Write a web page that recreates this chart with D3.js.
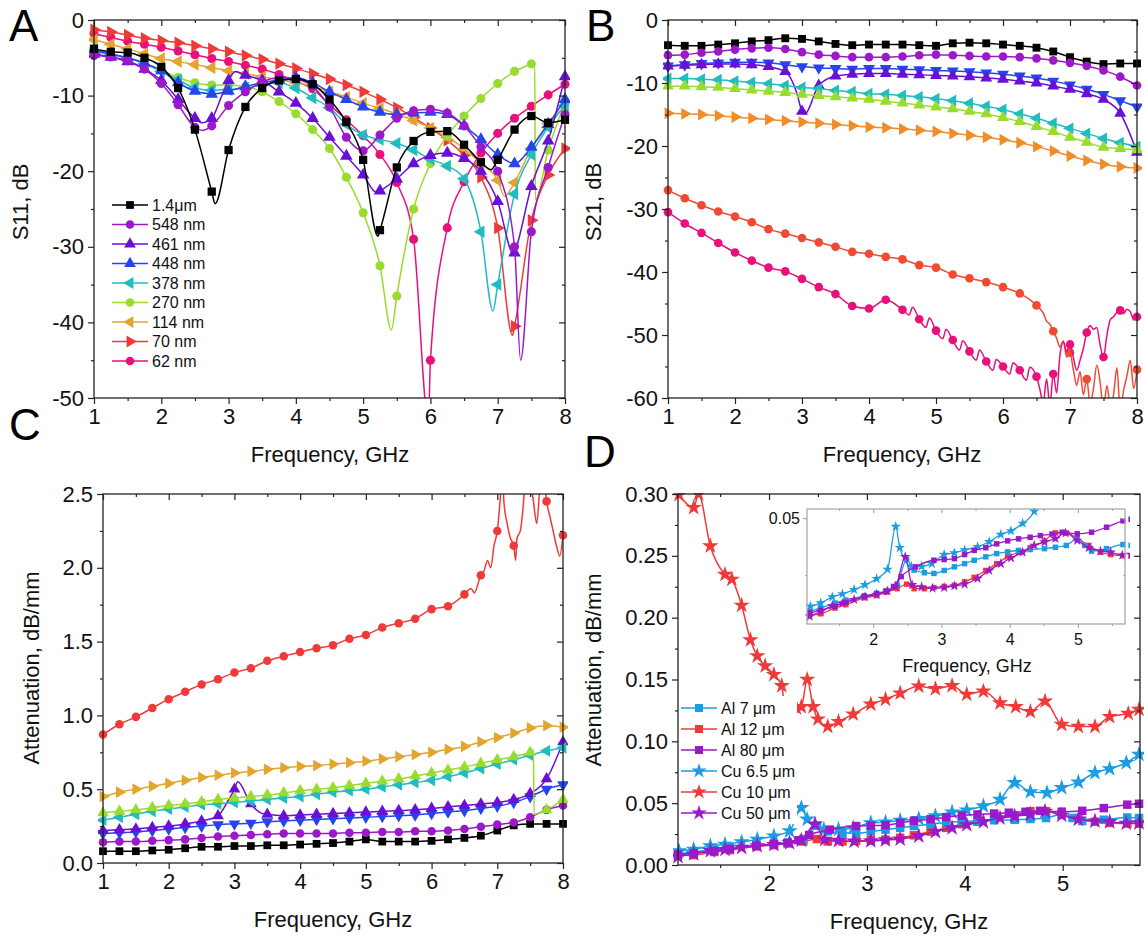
<!DOCTYPE html>
<html>
<head>
<meta charset="utf-8">
<script src="https://cdn.jsdelivr.net/npm/d3@7"></script>
<style>
  body { margin: 0; background: #fff; }
  svg { display: block; }
  text { font-family: "Liberation Sans", Arial, sans-serif; }
</style>
</head>
<body>
<svg id="fig" width="1144" height="941"></svg>
<script>
// ---- panel A : S11 (dB) vs frequency (GHz) ----
const s11_1400 = [[1,-3.8],[1.25,-4.2],[1.5,-4.3],[1.75,-5.0],[2,-6.2],[2.25,-9.0],[2.5,-14.5],[2.75,-22.7],[2.8,-24.3],[3,-17.2],[3.25,-11.5],[3.5,-9.0],[3.75,-8.0],[4,-7.8],[4.25,-8.5],[4.5,-10.5],[4.75,-13.5],[5,-18.5],[5.22,-28.6],[5.25,-27.8],[5.5,-19.5],[5.75,-16.0],[6,-14.8],[6.25,-14.7],[6.5,-16.5],[6.75,-18.8],[6.9,-19.8],[7,-18.5],[7.25,-14.5],[7.5,-12.7],[7.75,-13.6],[8,-13.2]];
const s11_548 = [[1,-4.7],[1.25,-4.9],[1.5,-5.4],[1.75,-6.5],[2,-8.4],[2.25,-11.2],[2.5,-14.2],[2.62,-14.6],[2.75,-14.0],[3,-11.3],[3.25,-9.5],[3.5,-8.2],[3.75,-7.6],[4,-7.8],[4.25,-8.8],[4.5,-11.5],[4.75,-15.5],[5,-17.3],[5.25,-15.2],[5.5,-13.0],[5.75,-12.0],[6,-11.8],[6.25,-12.3],[6.5,-14.0],[6.75,-16.8],[7,-20.0],[7.25,-30.0],[7.34,-45.0],[7.5,-28.0],[7.75,-19.5],[8,-12.5]];
const s11_461 = [[1,-4.5],[1.25,-4.9],[1.5,-5.5],[1.75,-6.5],[2,-8.0],[2.25,-10.5],[2.5,-13.0],[2.6,-13.6],[2.75,-13.0],[2.9,-10.0],[3,-8.0],[3.1,-6.8],[3.25,-7.3],[3.5,-8.0],[3.75,-9.5],[4,-11.0],[4.25,-13.0],[4.5,-15.5],[4.75,-18.0],[5,-20.5],[5.2,-22.8],[5.25,-22.6],[5.5,-21.0],[5.75,-19.0],[6,-17.9],[6.25,-17.6],[6.5,-18.3],[6.75,-20.0],[7,-24.0],[7.24,-31.0],[7.25,-30.8],[7.5,-22.0],[7.75,-16.0],[8,-7.5]];
const s11_448 = [[1,-4.0],[1.25,-4.5],[1.5,-5.0],[1.75,-5.7],[2,-6.7],[2.25,-8.3],[2.5,-9.4],[2.75,-9.8],[3,-9.4],[3.25,-8.8],[3.5,-8.3],[3.75,-7.9],[4,-7.6],[4.25,-8.3],[4.5,-9.5],[4.75,-10.5],[5,-11.5],[5.25,-12.2],[5.5,-12.5],[5.75,-12.3],[6,-12.2],[6.25,-12.5],[6.5,-14.0],[6.75,-15.8],[7,-17.8],[7.25,-19.0],[7.5,-16.8],[7.75,-13.8],[8,-10.5]];
const s11_378 = [[1,-4.0],[1.25,-4.5],[1.5,-5.0],[1.75,-5.8],[2,-6.8],[2.25,-7.9],[2.5,-9.0],[2.75,-9.3],[3,-9.2],[3.25,-9.0],[3.5,-8.6],[3.75,-8.3],[4,-9.0],[4.25,-10.3],[4.5,-11.6],[4.75,-13.8],[5,-15.2],[5.25,-15.8],[5.5,-16.3],[5.75,-17.2],[6,-18.4],[6.25,-19.3],[6.5,-21.0],[6.75,-28.0],[6.93,-38.5],[7,-35.0],[7.25,-23.0],[7.5,-17.8],[7.75,-14.2],[8,-11.3]];
const s11_270 = [[1,-4.2],[1.25,-4.6],[1.5,-5.0],[1.75,-5.7],[2,-6.6],[2.25,-7.6],[2.5,-8.3],[2.75,-8.6],[3,-8.6],[3.25,-8.8],[3.5,-9.5],[3.75,-10.8],[4,-12.4],[4.25,-14.5],[4.5,-17.0],[4.75,-20.8],[5,-25.5],[5.25,-32.5],[5.42,-41.0],[5.5,-36.5],[5.75,-25.0],[6,-19.0],[6.25,-15.3],[6.5,-12.7],[6.75,-10.4],[7,-8.4],[7.25,-6.8],[7.5,-5.8],[7.55,-5.6],[7.56,-23.8],[7.75,-17.2],[8,-11.0]];
const s11_114 = [[1,-2.6],[1.25,-3.2],[1.5,-3.8],[1.75,-4.5],[2,-5.1],[2.25,-5.5],[2.5,-5.9],[2.75,-6.3],[3,-6.7],[3.25,-7.1],[3.5,-7.5],[3.75,-7.9],[4,-8.3],[4.25,-8.8],[4.5,-9.5],[4.75,-10.2],[5,-11.0],[5.25,-11.7],[5.5,-12.4],[5.75,-13.3],[6,-14.3],[6.25,-15.5],[6.5,-17.0],[6.75,-19.0],[7,-21.2],[7.1,-23.3],[7.25,-21.5],[7.5,-17.0],[7.75,-13.7],[8,-11.5]];
const s11_70 = [[1,-1.3],[1.25,-1.6],[1.5,-2.0],[1.75,-2.4],[2,-2.7],[2.25,-3.0],[2.5,-3.4],[2.75,-3.8],[3,-4.2],[3.25,-4.7],[3.5,-5.2],[3.75,-5.8],[4,-6.4],[4.25,-7.1],[4.5,-7.8],[4.75,-8.6],[5,-9.5],[5.25,-10.5],[5.5,-11.6],[5.75,-12.9],[6,-14.3],[6.25,-15.9],[6.5,-17.9],[6.75,-20.8],[7,-27.5],[7.22,-41.7],[7.25,-40.5],[7.5,-26.5],[7.75,-20.5],[8,-17.0]];
const s11_62 = [[1,-1.8],[1.25,-2.3],[1.5,-2.8],[1.75,-3.2],[2,-3.6],[2.25,-4.1],[2.5,-4.6],[2.75,-5.1],[3,-5.5],[3.25,-6.0],[3.5,-6.5],[3.75,-7.2],[4,-8.1],[4.25,-9.1],[4.5,-11.2],[4.75,-13.2],[5,-15.3],[5.25,-17.8],[5.5,-21.5],[5.75,-29.0],[5.97,-53.0],[6,-45.0],[6.25,-27.5],[6.5,-21.4],[6.75,-17.6],[7,-15.0],[7.25,-13.0],[7.5,-11.4],[7.75,-9.9],[8,-8.5]];

// ---- panel B : S21 (dB) ----
const s21_1400 = [[1,-4.0],[1.25,-4.1],[1.5,-4.1],[1.75,-3.9],[2,-3.7],[2.25,-3.4],[2.5,-3.2],[2.75,-2.9],[3,-3.0],[3.25,-3.4],[3.5,-3.8],[3.75,-4.0],[4,-3.9],[4.25,-3.9],[4.5,-3.9],[4.75,-4.0],[5,-4.1],[5.25,-3.7],[5.5,-3.6],[5.75,-3.7],[6,-3.9],[6.25,-4.1],[6.5,-4.4],[6.75,-5.0],[7,-5.9],[7.25,-6.6],[7.5,-7.0],[7.75,-6.9],[8,-6.9]];
const s21_548 = [[1,-5.6],[1.25,-5.5],[1.5,-5.2],[1.75,-5.0],[2,-4.7],[2.25,-4.5],[2.5,-4.4],[2.75,-4.6],[3,-5.1],[3.25,-5.5],[3.5,-5.7],[3.75,-5.9],[4,-5.9],[4.25,-5.9],[4.5,-5.8],[4.75,-5.6],[5,-5.5],[5.25,-5.6],[5.5,-5.7],[5.75,-5.8],[6,-5.8],[6.25,-5.9],[6.5,-6.1],[6.75,-6.4],[7,-6.8],[7.25,-7.3],[7.5,-8.0],[7.75,-9.0],[8,-10.4]];
const s21_448 = [[1,-7.3],[1.25,-7.1],[1.5,-6.9],[1.75,-6.8],[2,-6.7],[2.25,-6.7],[2.5,-6.8],[2.75,-7.1],[3,-7.4],[3.25,-7.6],[3.5,-7.7],[3.75,-7.8],[4,-7.7],[4.25,-7.7],[4.5,-7.8],[4.75,-7.9],[5,-8.0],[5.25,-8.1],[5.5,-8.2],[5.75,-8.4],[6,-8.6],[6.25,-8.9],[6.5,-9.2],[6.75,-9.7],[7,-10.3],[7.25,-11.0],[7.5,-11.8],[7.75,-12.8],[8,-13.8]];
const s21_461 = [[1,-7.3],[1.25,-7.2],[1.5,-7.1],[1.75,-7.0],[2,-7.0],[2.25,-7.1],[2.5,-7.4],[2.75,-8.2],[2.92,-11.5],[3,-14.5],[3.04,-14.9],[3.25,-10.4],[3.5,-8.9],[3.75,-8.6],[4,-8.5],[4.25,-8.5],[4.5,-8.6],[4.75,-8.7],[5,-8.8],[5.25,-8.9],[5.5,-9.0],[5.75,-9.2],[6,-9.4],[6.25,-9.7],[6.5,-10.0],[6.75,-10.5],[7,-11.0],[7.25,-11.7],[7.5,-12.6],[7.75,-14.8],[8,-21.0]];
const s21_378 = [[1,-9.3],[1.25,-9.3],[1.5,-9.4],[1.75,-9.5],[2,-9.7],[2.25,-9.9],[2.5,-10.1],[2.75,-10.4],[3,-10.7],[3.25,-10.9],[3.5,-11.2],[3.75,-11.4],[4,-11.7],[4.25,-11.8],[4.5,-12.0],[4.75,-12.2],[5,-12.5],[5.25,-12.8],[5.5,-13.2],[5.75,-13.7],[6,-14.2],[6.25,-14.9],[6.5,-15.6],[6.75,-16.4],[7,-17.2],[7.25,-18.0],[7.5,-18.8],[7.75,-19.5],[8,-20.1]];
const s21_270 = [[1,-10.5],[1.25,-10.5],[1.5,-10.6],[1.75,-10.7],[2,-10.9],[2.25,-11.1],[2.5,-11.3],[2.75,-11.5],[3,-11.8],[3.25,-12.0],[3.5,-12.2],[3.75,-12.4],[4,-12.6],[4.25,-12.9],[4.5,-13.2],[4.75,-13.5],[5,-13.8],[5.25,-14.1],[5.5,-14.5],[5.75,-14.9],[6,-15.5],[6.25,-16.1],[6.5,-16.9],[6.75,-17.7],[7,-18.6],[7.25,-19.4],[7.5,-20.2],[7.75,-20.4],[8,-20.6]];
const s21_114 = [[1,-14.8],[1.25,-14.9],[1.5,-15.0],[1.75,-15.2],[2,-15.4],[2.25,-15.6],[2.5,-15.8],[2.75,-16.0],[3,-16.2],[3.25,-16.4],[3.5,-16.6],[3.75,-16.8],[4,-17.0],[4.25,-17.1],[4.5,-17.3],[4.75,-17.5],[5,-17.7],[5.25,-18.0],[5.5,-18.3],[5.75,-18.6],[6,-19.0],[6.25,-19.5],[6.5,-20.1],[6.75,-20.8],[7,-21.6],[7.25,-22.3],[7.5,-22.9],[7.75,-23.3],[8,-23.5]];
const s21_70 = [[1,-27.0],[1.25,-28.3],[1.5,-29.4],[1.75,-30.4],[2,-31.2],[2.25,-32.1],[2.5,-33.2],[2.75,-33.9],[3,-34.6],[3.25,-35.3],[3.5,-36.0],[3.75,-36.8],[4,-37.1],[4.25,-37.6],[4.5,-38.0],[4.75,-38.9],[5,-39.3],[5.25,-40.4],[5.5,-41.0],[5.75,-41.6],[6,-42.4],[6.25,-43.4],[6.5,-45.3],[6.6,-46.5],[6.65,-47.8],[6.7,-48.3],[6.75,-49.4],[6.8,-50.5],[6.85,-51.9],[6.9,-51.0],[6.95,-53.5],[7,-52.8],[7.05,-55.5],[7.1,-58.0],[7.15,-55.8],[7.2,-59.5],[7.25,-57.0],[7.3,-61.0],[7.35,-58.5],[7.4,-54.8],[7.45,-57.5],[7.5,-62.0],[7.55,-58.0],[7.6,-61.0],[7.65,-59.5],[7.7,-55.2],[7.75,-62.0],[7.8,-58.8],[7.85,-56.5],[7.9,-54.0],[7.95,-58.5],[8,-55.5]];
const s21_62 = [[1,-30.5],[1.25,-32.3],[1.5,-33.8],[1.75,-35.4],[2,-36.9],[2.25,-38.2],[2.5,-39.3],[2.75,-39.9],[3,-41.1],[3.25,-42.4],[3.5,-43.5],[3.75,-45.4],[4,-45.8],[4.25,-44.4],[4.5,-46.0],[4.6,-46.8],[4.65,-45.6],[4.75,-47.5],[4.85,-48.8],[4.9,-47.3],[5,-49.3],[5.1,-50.6],[5.15,-49.1],[5.25,-50.8],[5.35,-52.4],[5.4,-50.9],[5.5,-52.6],[5.6,-54.0],[5.65,-52.4],[5.75,-54.2],[5.85,-55.6],[5.9,-53.9],[6,-55.0],[6.1,-56.2],[6.15,-54.4],[6.25,-55.6],[6.35,-57.2],[6.4,-55.1],[6.5,-56.6],[6.55,-58.6],[6.6,-60.8],[6.65,-57.0],[6.7,-61.2],[6.75,-56.2],[6.8,-59.2],[6.85,-53.2],[6.9,-51.0],[6.95,-52.6],[7,-51.5],[7.05,-53.6],[7.1,-55.6],[7.15,-54.0],[7.2,-52.1],[7.25,-49.6],[7.3,-48.5],[7.35,-49.1],[7.4,-48.8],[7.45,-51.6],[7.5,-53.5],[7.55,-50.1],[7.6,-47.6],[7.65,-47.1],[7.7,-46.4],[7.75,-46.1],[7.8,-46.6],[7.85,-45.9],[7.9,-46.3],[7.95,-47.6],[8,-47.1]];

// ---- panel C : attenuation (dB/mm) ----
const att_1400 = [[1,0.08],[1.25,0.08],[1.5,0.08],[1.75,0.085],[2,0.09],[2.25,0.10],[2.5,0.11],[2.75,0.11],[3,0.115],[3.25,0.115],[3.5,0.12],[3.75,0.12],[4,0.125],[4.25,0.13],[4.5,0.135],[4.75,0.145],[5,0.16],[5.25,0.145],[5.5,0.145],[5.75,0.145],[6,0.15],[6.25,0.16],[6.5,0.17],[6.75,0.185],[7,0.22],[7.25,0.255],[7.5,0.265],[7.75,0.265],[8,0.265]];
const att_548 = [[1,0.14],[1.25,0.145],[1.5,0.145],[1.75,0.15],[2,0.155],[2.25,0.16],[2.5,0.17],[2.75,0.18],[3,0.185],[3.25,0.19],[3.5,0.195],[3.75,0.20],[4,0.20],[4.25,0.20],[4.5,0.20],[4.75,0.205],[5,0.205],[5.25,0.21],[5.5,0.21],[5.75,0.215],[6,0.215],[6.25,0.22],[6.5,0.23],[6.75,0.245],[7,0.26],[7.25,0.275],[7.5,0.31],[7.75,0.36],[8,0.39]];
const att_448 = [[1,0.20],[1.25,0.205],[1.5,0.21],[1.75,0.22],[2,0.23],[2.25,0.24],[2.5,0.25],[2.75,0.26],[3,0.265],[3.25,0.27],[3.5,0.28],[3.75,0.285],[4,0.29],[4.25,0.295],[4.5,0.30],[4.75,0.305],[5,0.31],[5.25,0.315],[5.5,0.32],[5.75,0.325],[6,0.335],[6.25,0.345],[6.5,0.355],[6.75,0.37],[7,0.385],[7.25,0.41],[7.5,0.45],[7.75,0.50],[8,0.53]];
const att_461 = [[1,0.22],[1.25,0.225],[1.5,0.23],[1.75,0.24],[2,0.25],[2.25,0.265],[2.5,0.285],[2.75,0.32],[2.9,0.42],[3,0.50],[3.05,0.55],[3.25,0.40],[3.4,0.34],[3.5,0.33],[3.75,0.32],[4,0.325],[4.25,0.33],[4.5,0.335],[4.75,0.34],[5,0.345],[5.25,0.35],[5.5,0.355],[5.75,0.36],[6,0.37],[6.25,0.38],[6.5,0.39],[6.75,0.40],[7,0.41],[7.25,0.43],[7.5,0.47],[7.75,0.57],[8,0.82]];
const att_378 = [[1,0.29],[1.25,0.31],[1.5,0.33],[1.75,0.35],[2,0.365],[2.25,0.38],[2.5,0.395],[2.75,0.40],[3,0.41],[3.25,0.42],[3.5,0.43],[3.75,0.44],[4,0.45],[4.25,0.465],[4.5,0.48],[4.75,0.49],[5,0.50],[5.25,0.515],[5.5,0.53],[5.75,0.545],[6,0.56],[6.25,0.585],[6.5,0.61],[6.75,0.64],[7,0.67],[7.25,0.70],[7.5,0.73],[7.75,0.76],[8,0.78]];
const att_270 = [[1,0.34],[1.25,0.35],[1.5,0.36],[1.75,0.375],[2,0.39],[2.25,0.40],[2.5,0.415],[2.75,0.43],[3,0.44],[3.25,0.45],[3.5,0.46],[3.75,0.475],[4,0.49],[4.25,0.50],[4.5,0.51],[4.75,0.525],[5,0.54],[5.25,0.555],[5.5,0.57],[5.75,0.59],[6,0.61],[6.25,0.63],[6.5,0.65],[6.75,0.675],[7,0.70],[7.25,0.72],[7.5,0.75],[7.55,0.76],[7.56,0.33],[7.75,0.36],[8,0.43]];
const att_114 = [[1,0.45],[1.25,0.48],[1.5,0.50],[1.75,0.52],[2,0.54],[2.25,0.56],[2.5,0.58],[2.75,0.595],[3,0.61],[3.25,0.62],[3.5,0.635],[3.75,0.645],[4,0.655],[4.25,0.66],[4.5,0.67],[4.75,0.68],[5,0.69],[5.25,0.705],[5.5,0.72],[5.75,0.735],[6,0.75],[6.25,0.77],[6.5,0.79],[6.75,0.82],[7,0.85],[7.25,0.88],[7.5,0.915],[7.75,0.93],[8,0.92]];
const att_62 = [[1,0.87],[1.25,0.94],[1.5,0.99],[1.75,1.05],[2,1.11],[2.25,1.16],[2.5,1.21],[2.75,1.245],[3,1.29],[3.25,1.32],[3.5,1.37],[3.75,1.40],[4,1.43],[4.25,1.455],[4.5,1.475],[4.75,1.52],[5,1.545],[5.25,1.595],[5.5,1.625],[5.75,1.655],[6,1.72],[6.25,1.74],[6.5,1.82],[6.6,1.86],[6.65,1.83],[6.75,1.95],[6.8,1.98],[6.85,2.05],[6.9,2.0],[6.95,2.15],[7,2.25],[7.05,2.5],[7.08,2.7],[7.1,2.45],[7.15,2.3],[7.2,2.2],[7.25,2.15],[7.28,2.05],[7.3,2.2],[7.35,2.25],[7.4,2.45],[7.43,2.65],[7.5,2.6],[7.55,2.45],[7.6,2.3],[7.65,2.55],[7.7,2.65],[7.75,2.45],[7.8,2.35],[7.85,2.25],[7.9,2.15],[7.95,2.08],[8,2.22]];

// ---- panel D : attenuation of Al / Cu films (dB/mm) ----
const al7 = [[1.07,0.0091],[1.23,0.0105],[1.44,0.0127],[1.6,0.014],[1.87,0.0159],[2.05,0.017],[2.19,0.0182],[2.35,0.021],[2.49,0.0318],[2.6,0.0272],[2.75,0.026],[2.89,0.0257],[3.04,0.027],[3.19,0.0286],[3.34,0.030],[3.48,0.0315],[3.65,0.033],[3.81,0.0344],[3.97,0.0352],[4.13,0.0358],[4.3,0.0362],[4.51,0.0366],[4.67,0.0372],[4.83,0.038],[4.99,0.0409],[5.1,0.038],[5.2,0.0355],[5.42,0.0366],[5.66,0.0384],[5.78,0.038]];
const al12 = [[1.07,0.0075],[1.23,0.008],[1.44,0.0105],[1.6,0.012],[1.87,0.015],[2.05,0.016],[2.19,0.0175],[2.35,0.019],[2.49,0.021],[2.6,0.019],[2.75,0.019],[2.89,0.0195],[3.04,0.02],[3.19,0.0205],[3.34,0.022],[3.48,0.024],[3.65,0.027],[3.81,0.03],[3.97,0.033],[4.13,0.035],[4.3,0.037],[4.51,0.04],[4.67,0.0435],[4.83,0.0435],[4.99,0.041],[5.16,0.038],[5.33,0.035],[5.48,0.034],[5.66,0.0335],[5.78,0.0335]];
const al80 = [[1.07,0.0084],[1.23,0.0095],[1.44,0.0113],[1.6,0.013],[1.87,0.0156],[2.05,0.0168],[2.19,0.0178],[2.3,0.02],[2.41,0.0243],[2.62,0.0286],[2.89,0.0315],[3.04,0.0318],[3.19,0.0322],[3.34,0.034],[3.48,0.0358],[3.65,0.037],[3.81,0.0387],[3.97,0.040],[4.13,0.0409],[4.3,0.0416],[4.45,0.0423],[4.62,0.043],[4.77,0.0438],[4.99,0.0431],[5.2,0.0438],[5.42,0.046],[5.66,0.0488],[5.78,0.0495]];
const cu65 = [[1.08,0.0113],[1.23,0.0127],[1.40,0.0154],[1.55,0.0167],[1.72,0.0186],[1.88,0.0207],[2.05,0.0234],[2.21,0.0275],[2.33,0.0463],[2.39,0.037],[2.56,0.0288],[2.71,0.0288],[2.86,0.030],[3.04,0.034],[3.19,0.0347],[3.34,0.036],[3.53,0.0374],[3.7,0.0396],[3.87,0.0428],[4.02,0.0444],[4.19,0.0477],[4.36,0.053],[4.51,0.0665],[4.67,0.0592],[4.84,0.0584],[4.99,0.0625],[5.16,0.067],[5.33,0.0746],[5.48,0.0778],[5.65,0.0827],[5.78,0.0894]];
const cu10 = [[1.08,0.2995],[1.23,0.289],[1.28,0.30],[1.40,0.258],[1.55,0.235],[1.62,0.231],[1.72,0.21],[1.81,0.182],[1.88,0.169],[1.96,0.161],[2.05,0.154],[2.13,0.145],[2.16,0.128],[2.21,0.122],[2.28,0.127],[2.33,0.128],[2.39,0.15],[2.45,0.128],[2.5,0.118],[2.6,0.112],[2.71,0.116],[2.86,0.122],[3.04,0.13],[3.19,0.134],[3.34,0.139],[3.53,0.1446],[3.7,0.1425],[3.87,0.145],[4.02,0.138],[4.19,0.1405],[4.36,0.131],[4.52,0.128],[4.67,0.124],[4.82,0.1325],[4.99,0.1136],[5.16,0.112],[5.33,0.112],[5.48,0.12],[5.67,0.1225],[5.78,0.1258]];
const cu50 = [[1.07,0.0069],[1.23,0.009],[1.40,0.0115],[1.55,0.0125],[1.72,0.0142],[1.88,0.0155],[2.05,0.0165],[2.21,0.018],[2.33,0.02],[2.47,0.033],[2.57,0.0207],[2.71,0.0198],[2.87,0.0192],[3.04,0.0195],[3.19,0.0202],[3.34,0.021],[3.53,0.0235],[3.7,0.027],[3.87,0.03],[4.02,0.0325],[4.19,0.035],[4.36,0.038],[4.51,0.0395],[4.67,0.041],[4.82,0.0434],[4.99,0.0402],[5.16,0.037],[5.33,0.0355],[5.48,0.035],[5.65,0.0337],[5.78,0.034]];

// tick values
const ticksGHz = [1, 2, 3, 4, 5, 6, 7, 8];
const minorGHz = [1.5, 2.5, 3.5, 4.5, 5.5, 6.5, 7.5];
const ticksS11 = [-50, -40, -30, -20, -10, 0];
const minorS11 = [-45, -35, -25, -15, -5];
const ticksS21 = [-60, -50, -40, -30, -20, -10, 0];
const minorS21 = [-55, -45, -35, -25, -15, -5];
const ticksAttC = [0, 0.5, 1.0, 1.5, 2.0, 2.5];
const minorAttC = [0.25, 0.75, 1.25, 1.75, 2.25];
const ticksGHzD = [2, 3, 4, 5];
const minorGHzD = [1.5, 2.5, 3.5, 4.5, 5.5];
const ticksAttD = [0, 0.05, 0.10, 0.15, 0.20, 0.25, 0.30];
const minorAttD = [0.025, 0.075, 0.125, 0.175, 0.225, 0.275];

const C = {
  black: '#000000', purple: '#9b19c9', violet: '#6a10d6', blue: '#2544ee',
  cyan: '#1fbcc0', lime: '#98dc2e', gold: '#e2a52e', red: '#f03a3a',
  magenta: '#e8107a', orange: '#f08c2a', sky: '#1a9de2'
};

const seriesA = [
  {name: '1.4\u03bcm', data: s11_1400, color: C.black, shape: 'square'},
  {name: '548 nm', data: s11_548, color: C.purple, shape: 'circle'},
  {name: '461 nm', data: s11_461, color: C.violet, shape: 'up'},
  {name: '448 nm', data: s11_448, color: C.blue, shape: 'up'},
  {name: '378 nm', data: s11_378, color: C.cyan, shape: 'left'},
  {name: '270 nm', data: s11_270, color: C.lime, shape: 'circle'},
  {name: '114 nm', data: s11_114, color: C.gold, shape: 'left'},
  {name: '70 nm', data: s11_70, color: C.red, shape: 'right'},
  {name: '62 nm', data: s11_62, color: C.magenta, shape: 'circle'}
];
const seriesB = [
  {data: s21_1400, color: C.black, shape: 'square'},
  {data: s21_548, color: C.purple, shape: 'circle'},
  {data: s21_448, color: C.blue, shape: 'down'},
  {data: s21_461, color: C.violet, shape: 'up'},
  {data: s21_378, color: C.cyan, shape: 'left'},
  {data: s21_270, color: C.lime, shape: 'up'},
  {data: s21_114, color: C.orange, shape: 'right'},
  {data: s21_70, color: '#f04a35', shape: 'circle'},
  {data: s21_62, color: C.magenta, shape: 'circle'}
];
const seriesC = [
  {data: att_1400, color: C.black, shape: 'square'},
  {data: att_548, color: C.purple, shape: 'circle'},
  {data: att_448, color: C.blue, shape: 'down'},
  {data: att_461, color: C.violet, shape: 'up'},
  {data: att_378, color: C.cyan, shape: 'left'},
  {data: att_270, color: C.lime, shape: 'up'},
  {data: att_114, color: C.gold, shape: 'right'},
  {data: att_62, color: C.red, shape: 'circle'}
];
const seriesD = [
  {name: 'Al 7 \u03bcm', data: al7, color: C.sky, shape: 'square'},
  {name: 'Al 12 \u03bcm', data: al12, color: C.red, shape: 'square'},
  {name: 'Al 80 \u03bcm', data: al80, color: C.purple, shape: 'square'},
  {name: 'Cu 6.5 \u03bcm', data: cu65, color: C.sky, shape: 'star'},
  {name: 'Cu 10 \u03bcm', data: cu10, color: C.red, shape: 'star'},
  {name: 'Cu 50 \u03bcm', data: cu50, color: C.purple, shape: 'star'}
];
const drawOrderD = [1, 0, 3, 4, 2, 5];

const SHAPES = {
  square: [d3.symbolSquare, 0], circle: [d3.symbolCircle, 0],
  up: [d3.symbolTriangle, 0], down: [d3.symbolTriangle, 180],
  left: [d3.symbolTriangle, -90], right: [d3.symbolTriangle, 90],
  star: [d3.symbolStar, 0]
};

const svg = d3.select('#fig');

function symbolPath(shape, size) {
  const k = shape === 'star' ? 1.15 : (shape === 'circle' ? 0.95 : 1);
  return d3.symbol(SHAPES[shape][0], size * k)();
}

function panel(p) {
  const x = d3.scaleLinear().domain(p.xDomain).range([p.left, p.right]);
  const y = d3.scaleLinear().domain(p.yDomain).range([p.bottom, p.top]);
  const w = p.right - p.left, h = p.bottom - p.top;
  const g = svg.append('g');
  const defs = g.append('defs');
  defs.append('clipPath').attr('id', p.id + 'c').append('rect')
    .attr('x', p.left).attr('y', p.top).attr('width', w).attr('height', h);
  defs.append('clipPath').attr('id', p.id + 'm').append('rect')
    .attr('x', p.left - 5).attr('y', p.top - 1).attr('width', w + 10).attr('height', h + 6);

  if (p.fill) g.append('rect').attr('x', p.left).attr('y', p.top).attr('width', w).attr('height', h).attr('fill', p.fill);

  const line = d3.line().x(d => x(d[0])).y(d => y(d[1])).curve(d3.curveMonotoneX);
  p.series.forEach(s => {
    const sg = g.append('g');
    sg.append('path').attr('d', line(s.data))
      .attr('fill', 'none').attr('stroke', s.color).attr('stroke-width', p.lw)
      .attr('stroke-linejoin', 'round').attr('clip-path', `url(#${p.id}c)`);
    const pts = p.markAll ? s.data
      : s.data.filter(d => Math.abs(d[0] * 4 - Math.round(d[0] * 4)) < 1e-6);
    sg.append('g').attr('clip-path', `url(#${p.id}m)`)
      .selectAll('path').data(pts).join('path')
      .attr('d', symbolPath(s.shape, p.msize))
      .attr('transform', d => `translate(${x(d[0])},${y(d[1])}) rotate(${SHAPES[s.shape][1]})`)
      .attr('fill', s.color);
  });

  const tk = p.tick || 6, tkm = p.tickMinor || 3;
  const add = (axis, tr) => g.append('g').attr('transform', tr).call(axis)
    .call(a => a.select('.domain').remove());
  add(d3.axisBottom(x).tickValues(p.xTicks).tickSize(tk).tickPadding(p.padX || 4).tickFormat(d => String(d)), `translate(0,${p.bottom})`);
  add(d3.axisBottom(x).tickValues(p.xMinor).tickSize(tkm).tickFormat(''), `translate(0,${p.bottom})`);
  add(d3.axisLeft(y).tickValues(p.yTicks).tickSize(tk).tickPadding(p.padY || 4).tickFormat(p.yFmt), `translate(${p.left},0)`);
  add(d3.axisLeft(y).tickValues(p.yMinor).tickSize(tkm).tickFormat(''), `translate(${p.left},0)`);
  add(d3.axisTop(x).tickValues(p.xTicks).tickSize(-tk).tickFormat(''), `translate(0,${p.top})`);
  add(d3.axisTop(x).tickValues(p.xMinor).tickSize(-tkm).tickFormat(''), `translate(0,${p.top})`);
  add(d3.axisRight(y).tickValues(p.yTicks).tickSize(-tk).tickFormat(''), `translate(${p.right},0)`);
  add(d3.axisRight(y).tickValues(p.yMinor).tickSize(-tkm).tickFormat(''), `translate(${p.right},0)`);
  g.selectAll('.tick line').attr('stroke', p.frame || '#222').attr('stroke-width', 1.2);
  g.selectAll('.tick text').attr('font-size', p.fs).attr('fill', '#111')
    .attr('font-family', '"Liberation Sans", Arial, sans-serif');

  g.append('rect').attr('x', p.left).attr('y', p.top).attr('width', w).attr('height', h)
    .attr('fill', 'none').attr('stroke', p.frame || '#222').attr('stroke-width', 1.3);

  g.append('text').attr('x', p.xTitle[0]).attr('y', p.xTitle[1])
    .attr('text-anchor', 'middle').attr('font-size', p.titleFs).attr('fill', '#111')
    .text('Frequency, GHz');
  if (p.yTitle) {
    g.append('text').attr('transform', `translate(${p.yTitle[0]},${p.yTitle[1]}) rotate(-90)`)
      .attr('text-anchor', 'middle').attr('font-size', p.titleFs).attr('fill', '#111')
      .text(p.yLabel);
  }
  if (p.letter) {
    g.append('text').attr('x', p.letter[0]).attr('y', p.letter[1])
      .attr('font-size', 44).attr('fill', '#000').text(p.letter[2]);
  }
  return g;
}

function legend(items, o) {
  const g = svg.append('g');
  g.append('rect').attr('x', o.box[0]).attr('y', o.box[1]).attr('width', o.box[2]).attr('height', o.box[3])
    .attr('fill', '#fff');
  items.forEach((s, i) => {
    const cy = o.y + i * o.dy;
    g.append('line').attr('x1', o.x1).attr('x2', o.x2).attr('y1', cy).attr('y2', cy)
      .attr('stroke', s.color).attr('stroke-width', 1.6);
    g.append('path').attr('d', symbolPath(s.shape, o.ms))
      .attr('transform', `translate(${(o.x1 + o.x2) / 2},${cy}) rotate(${SHAPES[s.shape][1]})`)
      .attr('fill', s.color);
    g.append('text').attr('x', o.tx).attr('y', cy).attr('dy', '0.36em')
      .attr('font-size', o.fs).attr('fill', '#111').text(s.name);
  });
}

const common = {fs: 22, titleFs: 22, lw: 1.5};

panel({...common, id: 'pa', left: 94, right: 565, top: 20, bottom: 398,
  xDomain: [1, 8], yDomain: [-50, 0], xTicks: ticksGHz, xMinor: minorGHz,
  yTicks: ticksS11, yMinor: minorS11, yFmt: d => String(d),
  series: seriesA.slice().reverse(), msize: 68,
  xTitle: [330, 462], yTitle: [28, 202], yLabel: 'S11, dB', letter: [9, 41, 'A']});
legend(seriesA, {box: [101, 193, 96, 195], y: 205, dy: 19.5, x1: 112, x2: 148, tx: 152, fs: 16, ms: 60});

panel({...common, id: 'pb', left: 668, right: 1137, top: 20, bottom: 398,
  xDomain: [1, 8], yDomain: [-60, 0], xTicks: ticksGHz, xMinor: minorGHz,
  yTicks: ticksS21, yMinor: minorS21, yFmt: d => String(d),
  series: seriesB, msize: 62,
  xTitle: [902, 462], yTitle: [601, 202], yLabel: 'S21, dB', letter: [586, 41, 'B']});

panel({...common, id: 'pc', left: 103, right: 563, top: 494, bottom: 863,
  xDomain: [1, 8], yDomain: [0, 2.5], xTicks: ticksGHz, xMinor: minorGHz,
  yTicks: ticksAttC, yMinor: minorAttC, yFmt: d3.format('.1f'),
  series: seriesC, msize: 60,
  xTitle: [333, 927], yTitle: [39, 668], yLabel: 'Attenuation, dB/mm', letter: [9, 440, 'C']});

panel({...common, id: 'pd', left: 678, right: 1140, top: 494, bottom: 865,
  xDomain: [1.07, 5.79], yDomain: [0, 0.30], xTicks: ticksGHzD, xMinor: minorGHzD,
  yTicks: ticksAttD, yMinor: minorAttD, yFmt: d3.format('.2f'),
  series: drawOrderD.map(i => seriesD[i]), msize: 72, markAll: true,
  xTitle: [909, 929], yTitle: [601, 670], yLabel: 'Attenuation, dB/mm', letter: [584, 467, 'D']});
legend(seriesD, {box: [679, 696, 118, 128], y: 708, dy: 21, x1: 681, x2: 717, tx: 721, fs: 16, ms: 64});

// inset of panel D
panel({fs: 16, titleFs: 18, lw: 1.3, id: 'pi', left: 807, right: 1125, top: 509, bottom: 624,
  xDomain: [1.03, 5.69], yDomain: [0.0035, 0.054], xTicks: ticksGHzD, xMinor: minorGHzD,
  yTicks: [0.05], yMinor: [0.025], yFmt: d3.format('.2f'),
  series: drawOrderD.map(i => seriesD[i]), msize: 30, markAll: true,
  tick: 4, tickMinor: 2, padX: 6, padY: 3, frame: '#aaa', fill: '#fff',
  xTitle: [967, 672]});
</script>
</body>
</html>
